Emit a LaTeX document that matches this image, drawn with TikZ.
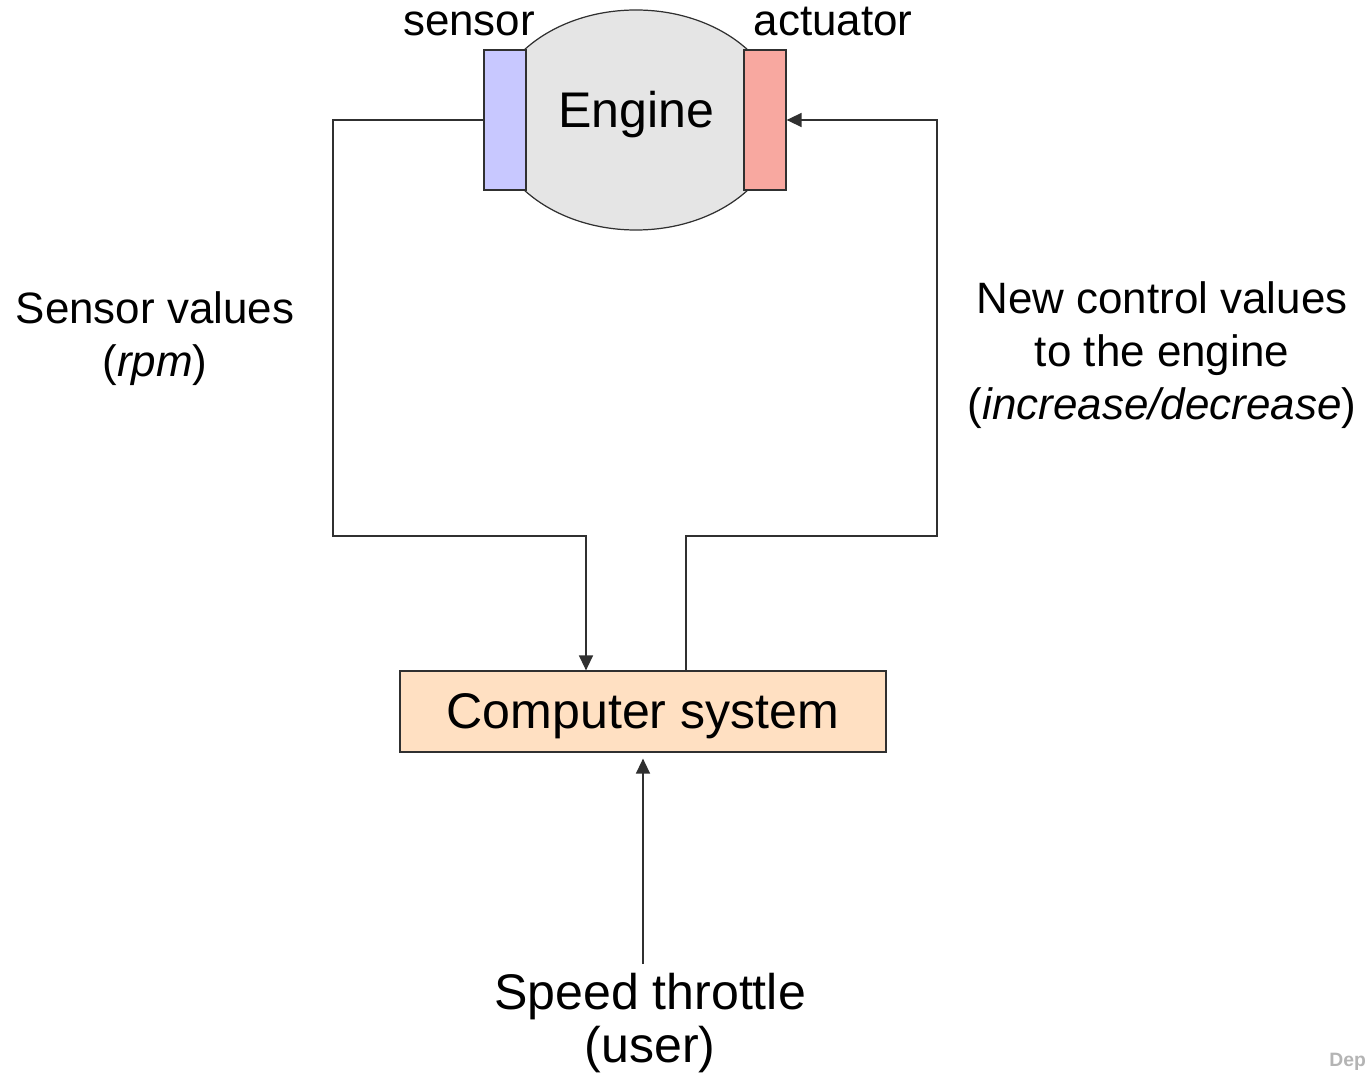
\documentclass[tikz,border=0pt]{standalone}
\usepackage{fontspec}
\setmainfont{Liberation Sans}
\usetikzlibrary{arrows.meta,shapes.geometric}
\definecolor{enginegray}{HTML}{E5E5E5}
\definecolor{sensorblue}{HTML}{C8C8FF}
\definecolor{actuatorred}{HTML}{F8A8A0}
\definecolor{computerpeach}{HTML}{FFE0C2}
\definecolor{wiregray}{HTML}{303030}
\definecolor{footgray}{HTML}{B4B4B4}

\begin{document}
\begin{tikzpicture}[
  x=0.2mm, y=-0.2mm,
  big/.style={font=\fontsize{28.5}{31.3}\selectfont, inner sep=0pt, align=center},
  lbl/.style={font=\fontsize{25}{30.2}\selectfont, inner sep=0pt, align=center},
  part/.style={draw=wiregray, line width=0.7pt, minimum width=8.4mm, minimum height=28mm, inner sep=0pt},
  wire/.style={draw=wiregray, line width=0.8pt},
  arrow/.style={wire, -{Triangle[length=3mm, width=2.8mm]}}
]
\useasboundingbox (0,0) rectangle (1365,1077);

% engine with sensor and actuator
\node[ellipse, draw=wiregray, line width=0.7pt, fill=enginegray,
  minimum width=58mm, minimum height=44mm, inner sep=0pt] (engine) at (636,120) {};
\node[big, anchor=base] (enginetxt) at (636,128) {Engine};
\node[part, fill=sensorblue] (sensor) at (505,120) {};
\node[part, fill=actuatorred] (actuator) at (765,120) {};
\node[lbl, anchor=base] (sensorlbl) at (469,36) {sensor};
\node[lbl, anchor=base] (actuatorlbl) at (833,36) {actuator};

\node[draw=wiregray, line width=0.7pt, fill=computerpeach, big, text depth=0pt,
  minimum width=97.2mm, minimum height=16.2mm] (computer) at (643,711.5) {Computer system};

\coordinate (lbend) at (333,536);
\coordinate (rbend) at (937,536);

% labels (base = last line)
\node[lbl, anchor=base] (sensorval) at (155,377) {Sensor values\\(\textit{rpm})};
\node[lbl, anchor=base] (controlval) at (1162,420) {New control values\\to the engine\\(\textit{increase/decrease})};
\node[big, font=\fontsize{28.5}{30}\selectfont, anchor=base] (throttle) at (650,1062) {Speed throttle\\(user)};
\node[font=\bfseries\fontsize{11}{13}\selectfont, text=footgray, inner sep=0pt,
  anchor=base west] (footer) at (1329,1066) {Dep};

% loop
\draw[arrow] (sensor.west) -| (lbend) -| ([xshift=-11.4mm]computer.north);
\draw[arrow] ([xshift=8.6mm]computer.north) |- (rbend) |- (actuator.east);
\draw[arrow, shorten <=1.7mm, shorten >=1.2mm] (computer.south |- throttle.north) -- (computer.south);
\end{tikzpicture}
\end{document}
